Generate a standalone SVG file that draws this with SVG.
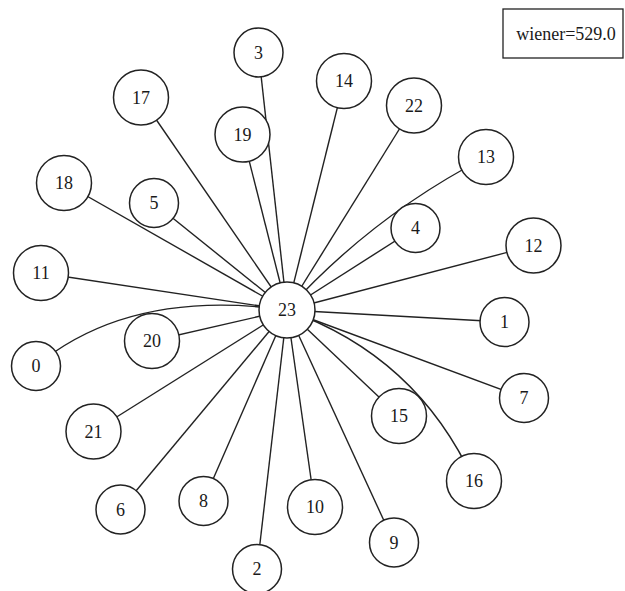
<svg xmlns="http://www.w3.org/2000/svg" width="625" height="591" viewBox="0 0 625 591">
<style>
.e{stroke:#222;stroke-width:1.4;fill:none}
.n circle{fill:#fff;stroke:#222;stroke-width:1.5}
.n text,.lbl{font-family:"Liberation Serif","Times New Roman",serif;font-size:18px;fill:#1a1a1a;text-anchor:middle;dominant-baseline:central}
</style>
<rect width="625" height="591" fill="#fff"/>
<g id="edges">
<path class="e" d="M36,366 Q130,288 287,310"/>
<path class="e" d="M486,157 Q372,216 287,310"/>
<path class="e" d="M474,481 Q417,356 287,310"/>
<line class="e" x1="287" y1="310" x2="504.5" y2="322"/>
<line class="e" x1="287" y1="310" x2="257" y2="569"/>
<line class="e" x1="287" y1="310" x2="258.5" y2="52.5"/>
<line class="e" x1="287" y1="310" x2="415.5" y2="228"/>
<line class="e" x1="287" y1="310" x2="154" y2="203"/>
<line class="e" x1="287" y1="310" x2="120.5" y2="509.5"/>
<line class="e" x1="287" y1="310" x2="524" y2="398"/>
<line class="e" x1="287" y1="310" x2="203.5" y2="501"/>
<line class="e" x1="287" y1="310" x2="394" y2="542.5"/>
<line class="e" x1="287" y1="310" x2="315" y2="507"/>
<line class="e" x1="287" y1="310" x2="41" y2="273"/>
<line class="e" x1="287" y1="310" x2="533.5" y2="245.5"/>
<line class="e" x1="287" y1="310" x2="344" y2="81"/>
<line class="e" x1="287" y1="310" x2="399" y2="416"/>
<line class="e" x1="287" y1="310" x2="141" y2="97.5"/>
<line class="e" x1="287" y1="310" x2="64" y2="183"/>
<line class="e" x1="287" y1="310" x2="242.5" y2="134.5"/>
<line class="e" x1="287" y1="310" x2="152" y2="341"/>
<line class="e" x1="287" y1="310" x2="93.5" y2="431.5"/>
<line class="e" x1="287" y1="310" x2="414" y2="105.5"/>
</g>
<g id="n0" class="n"><circle cx="36" cy="366" r="24.5"/><text x="36" y="366">0</text></g>
<g id="n1" class="n"><circle cx="504.5" cy="322" r="24.5"/><text x="504.5" y="322">1</text></g>
<g id="n2" class="n"><circle cx="257" cy="569" r="24.5"/><text x="257" y="569">2</text></g>
<g id="n3" class="n"><circle cx="258.5" cy="52.5" r="24.5"/><text x="258.5" y="52.5">3</text></g>
<g id="n4" class="n"><circle cx="415.5" cy="228" r="24.5"/><text x="415.5" y="228">4</text></g>
<g id="n5" class="n"><circle cx="154" cy="203" r="24.5"/><text x="154" y="203">5</text></g>
<g id="n6" class="n"><circle cx="120.5" cy="509.5" r="24.5"/><text x="120.5" y="509.5">6</text></g>
<g id="n7" class="n"><circle cx="524" cy="398" r="24.5"/><text x="524" y="398">7</text></g>
<g id="n8" class="n"><circle cx="203.5" cy="501" r="24.5"/><text x="203.5" y="501">8</text></g>
<g id="n9" class="n"><circle cx="394" cy="542.5" r="24.5"/><text x="394" y="542.5">9</text></g>
<g id="n10" class="n"><circle cx="315" cy="507" r="27.5"/><text x="315" y="507">10</text></g>
<g id="n11" class="n"><circle cx="41" cy="273" r="27.5"/><text x="41" y="273">11</text></g>
<g id="n12" class="n"><circle cx="533.5" cy="245.5" r="27.5"/><text x="533.5" y="245.5">12</text></g>
<g id="n13" class="n"><circle cx="486" cy="157" r="27.5"/><text x="486" y="157">13</text></g>
<g id="n14" class="n"><circle cx="344" cy="81" r="27.5"/><text x="344" y="81">14</text></g>
<g id="n15" class="n"><circle cx="399" cy="416" r="27.5"/><text x="399" y="416">15</text></g>
<g id="n16" class="n"><circle cx="474" cy="481" r="27.5"/><text x="474" y="481">16</text></g>
<g id="n17" class="n"><circle cx="141" cy="97.5" r="27.5"/><text x="141" y="97.5">17</text></g>
<g id="n18" class="n"><circle cx="64" cy="183" r="27.5"/><text x="64" y="183">18</text></g>
<g id="n19" class="n"><circle cx="242.5" cy="134.5" r="27.5"/><text x="242.5" y="134.5">19</text></g>
<g id="n20" class="n"><circle cx="152" cy="341" r="27.5"/><text x="152" y="341">20</text></g>
<g id="n21" class="n"><circle cx="93.5" cy="431.5" r="27.5"/><text x="93.5" y="431.5">21</text></g>
<g id="n22" class="n"><circle cx="414" cy="105.5" r="27.5"/><text x="414" y="105.5">22</text></g>
<g id="n23" class="n"><circle cx="287" cy="310" r="28"/><text x="287" y="310">23</text></g>
<g id="legend">
<rect x="503" y="9" width="120" height="49" fill="#fff" stroke="#222" stroke-width="1.3"/>
<text class="lbl" x="566" y="34">wiener=529.0</text>
</g>
</svg>
